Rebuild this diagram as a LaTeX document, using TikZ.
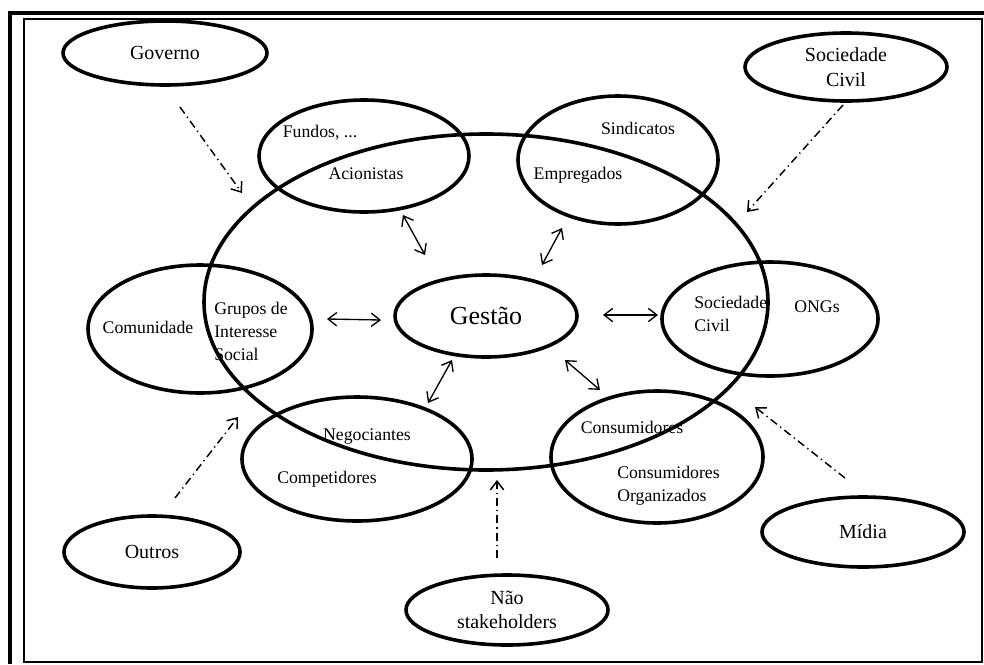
\documentclass[tikz,border=0pt]{standalone}
\usepackage{fontspec}
\setmainfont{Liberation Serif}
\usetikzlibrary{shapes.geometric,arrows.meta}
\begin{document}
\begin{tikzpicture}[x=0.75pt,y=-0.75pt,
  ell/.style n args={2}{ellipse,draw,line width=2.7pt,
    minimum width=#1*0.75pt,minimum height=#2*0.75pt,inner sep=0pt},
  outertxt/.style={font=\fontsize{15}{18.5}\selectfont,align=center},
  innertxt/.style={font=\fontsize{13.3}{17.2}\selectfont,inner sep=0pt},
  barb/.tip={Straight Barb[length=6.5pt,width=10pt]},
  link/.style={line width=1pt,barb-barb},
  influence/.style={line width=1.1pt,
    dash pattern=on 6pt off 3pt on 1pt off 3pt,-barb}
]
\useasboundingbox (0,0) rectangle (984,664);

% frames
\draw[line width=3pt] (10,664) -- (10,13) -- (984,13);
\draw[line width=1.4pt] (24,19) rectangle (982,662);

% organisation and its stakeholder groups
\node[ell={564}{336}] (org) at (486,302) {};
\node[ell={210}{112}] (acio) at (364,156) {};
\node[ell={200}{128}] (empr) at (618,160) {};
\node[ell={224}{128}] (comu) at (200,329) {};
\node[ell={216}{114}] (ongs) at (770,319) {};
\node[ell={230}{124}] (nego) at (357,459) {};
\node[ell={212}{132}] (cons) at (657,457) {};
\node[ell={182}{82},font=\fontsize{19.5}{22}\selectfont] (gest) at (486,316) {Gestão};

% outer actors
\node[ell={204}{64},outertxt] (gov) at (165,53) {Governo};
\node[ell={202}{68},outertxt] (soc) at (846,67) {Sociedade\\Civil};
\node[ell={176}{72},outertxt] (out) at (152,552) {Outros};
\node[ell={202}{70},outertxt] (nao) at (507,610) {Não\\stakeholders};
\node[ell={202}{70},outertxt] (mid) at (863,532) {Mídia};

% labels inside the groups
\node[innertxt] (t1) at (320,133) {Fundos, ...};
\node[innertxt] (t2) at (366,174) {Acionistas};
\node[innertxt] (t3) at (638,128) {Sindicatos};
\node[innertxt] (t4) at (578,175) {Empregados};
\node[innertxt] (t5) at (148,327) {Comunidade};
\node[innertxt,align=left,anchor=west] (t6) at (214,331) {Grupos de\\Interesse\\Social};
\node[innertxt,align=left,anchor=west] (t7) at (694,314) {Sociedade\\Civil};
\node[innertxt] (t8) at (817,307) {ONGs};
\node[innertxt] (t9) at (367,437) {Negociantes};
\node[innertxt] (t10) at (327,479) {Competidores};
\node[innertxt] (t11) at (632,427) {Consumidores};
\node[innertxt,align=left,anchor=west] (t12) at (617,486) {Consumidores\\Organizados};

% connector end points
\coordinate (a1) at (403,215); \coordinate (b1) at (425,255);
\coordinate (a2) at (562,228); \coordinate (b2) at (542,265);
\coordinate (a3) at (327,319); \coordinate (b3) at (381,320);
\coordinate (a4) at (603,315); \coordinate (b4) at (658,315);
\coordinate (a5) at (452,360); \coordinate (b5) at (428,403);
\coordinate (a6) at (565,360); \coordinate (b6) at (600,390);

\coordinate (g0) at (180,107); \coordinate (g1) at (242,193);
\coordinate (s0) at (843,105); \coordinate (s1) at (747,212);
\coordinate (o0) at (175,498); \coordinate (o1) at (238,417);
\coordinate (n0) at (497,558); \coordinate (n1) at (497,480);
\coordinate (m0) at (845,478); \coordinate (m1) at (755,407);

% two-way links with the management
\draw[link] (a1) -- (b1);
\draw[link] (a2) -- (b2);
\draw[link] (a3) -- (b3);
\draw[link] (a4) -- (b4);
\draw[link] (a5) -- (b5);
\draw[link] (a6) -- (b6);

% outside influences
\draw[influence] (g0) -- (g1);
\draw[influence] (s0) -- (s1);
\draw[influence] (o0) -- (o1);
\draw[influence] (n0) -- (n1);
\draw[influence] (m0) -- (m1);
\end{tikzpicture}
\end{document}
